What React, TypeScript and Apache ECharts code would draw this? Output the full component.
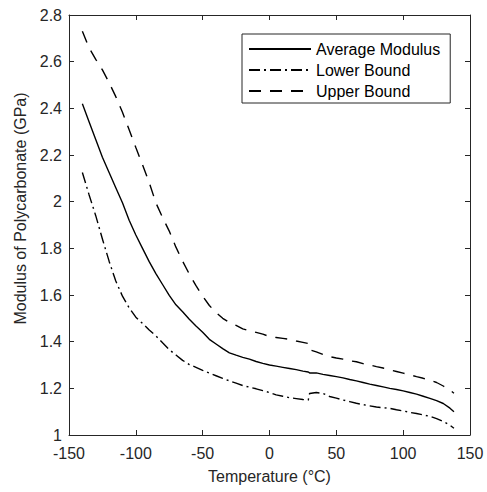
import React, { useEffect, useRef } from "react";
import * as echarts from "echarts";

const temperatures = [
  -140, -135, -130, -125, -120, -115, -110, -105, -100, -95, -90, -85, -80, -75, -70, -65, -60, -55, -50, -45,
  -40, -35, -30, -25, -20, -15, -10, -5, 0, 5, 10, 15, 20, 25, 29, 30, 35, 40, 45, 50, 55, 60, 65, 70, 75, 80,
  85, 90, 95, 100, 105, 110, 115, 120, 125, 130, 135, 138,
];

const averageModulus = [
  2.42, 2.343, 2.266, 2.19, 2.125, 2.06, 1.995, 1.92, 1.857, 1.8, 1.743, 1.692, 1.645, 1.598, 1.558, 1.528,
  1.496, 1.467, 1.44, 1.41, 1.39, 1.37, 1.352, 1.342, 1.333, 1.325, 1.315, 1.307, 1.3, 1.295, 1.29, 1.285,
  1.28, 1.274, 1.27, 1.266, 1.266, 1.26, 1.255, 1.25, 1.245, 1.238, 1.232, 1.225, 1.218, 1.212, 1.206, 1.2,
  1.195, 1.189, 1.182, 1.175, 1.166, 1.157, 1.147, 1.135, 1.115, 1.1,
];

const lowerBound = [
  2.125, 2.03, 1.94, 1.84, 1.745, 1.66, 1.595, 1.545, 1.505, 1.478, 1.45, 1.425, 1.395, 1.366, 1.343, 1.32,
  1.302, 1.29, 1.277, 1.265, 1.254, 1.243, 1.232, 1.222, 1.212, 1.205, 1.198, 1.19, 1.182, 1.172, 1.166, 1.16,
  1.156, 1.152, 1.15, 1.178, 1.182, 1.178, 1.165, 1.158, 1.15, 1.143, 1.136, 1.13, 1.125, 1.12, 1.117, 1.114,
  1.108, 1.103, 1.097, 1.092, 1.086, 1.08, 1.07, 1.058, 1.042, 1.029,
];

const upperBound = [
  2.73, 2.66, 2.61, 2.565, 2.51, 2.45, 2.383, 2.308, 2.232, 2.158, 2.082, 1.995, 1.932, 1.874, 1.805, 1.745,
  1.69, 1.64, 1.595, 1.555, 1.525, 1.5, 1.482, 1.47, 1.455, 1.447, 1.44, 1.432, 1.422, 1.418, 1.414, 1.41,
  1.403, 1.397, 1.392, 1.365, 1.356, 1.345, 1.336, 1.33, 1.325, 1.318, 1.314, 1.306, 1.3, 1.293, 1.287, 1.279,
  1.272, 1.265, 1.258, 1.25, 1.243, 1.235, 1.225, 1.21, 1.193, 1.179,
];

const xTicks = { min: -150, max: 150, interval: 50 };
const yTicks = { min: 1, max: 2.8, interval: 0.2 };

const seriesNames = ["Average Modulus", "Lower Bound", "Upper Bound"];

export default function App() {
  const ref = useRef<HTMLDivElement>(null);

  useEffect(() => {
    if (!ref.current) return;
    const chart = echarts.init(ref.current, undefined, { renderer: "svg" });
    const font = "'Liberation Sans', Arial, Helvetica, sans-serif";
    const axisColor = "#262626";
    const pair = (vals: number[]) => temperatures.map((t, i) => [t, vals[i]]);

    const axisLine = { show: true, onZero: false, lineStyle: { color: axisColor, width: 1 } };
    const axisTick = { show: true, inside: true, length: 5, lineStyle: { color: axisColor } };

    const baseX = {
      type: "value" as const,
      min: xTicks.min,
      max: xTicks.max,
      interval: xTicks.interval,
      splitLine: { show: false },
      axisLine,
      axisTick,
    };
    const baseY = {
      type: "value" as const,
      min: yTicks.min,
      max: yTicks.max,
      interval: yTicks.interval,
      splitLine: { show: false },
      axisLine,
      axisTick,
    };

    chart.setOption({
      animation: false,
      backgroundColor: "#ffffff",
      grid: { left: 69, right: 17, top: 15, bottom: 57 },
      legend: {
        orient: "vertical",
        left: 242,
        top: 34,
        data: seriesNames,
        padding: [7, 10, 4, 6],
        itemWidth: 62,
        itemHeight: 14,
        itemGap: 5,
        borderColor: axisColor,
        borderWidth: 1,
        backgroundColor: "#ffffff",
        itemStyle: { opacity: 0, color: "transparent", borderWidth: 0 },
        textStyle: { fontFamily: font, fontSize: 16, color: "#000", lineHeight: 16 },
      },
      xAxis: [
        {
          ...baseX,
          position: "bottom",
          name: "Temperature (°C)",
          nameLocation: "middle",
          nameGap: 33,
          nameTextStyle: { fontFamily: font, fontSize: 16, color: axisColor },
          axisLabel: { fontFamily: font, fontSize: 16, color: axisColor, margin: 10 },
        },
        { ...baseX, position: "top", axisLabel: { show: false } },
      ],
      yAxis: [
        {
          ...baseY,
          position: "left",
          name: "Modulus of Polycarbonate (GPa)",
          nameLocation: "middle",
          nameGap: 38,
          nameTextStyle: { fontFamily: font, fontSize: 16, color: axisColor, padding: [0, 0, 0, 33] },
          axisLabel: { fontFamily: font, fontSize: 16, color: axisColor, margin: 7 },
        },
        { ...baseY, position: "right", axisLabel: { show: false } },
      ],
      series: [
        {
          name: seriesNames[0],
          type: "line",
          data: pair(averageModulus),
          symbol: "none",
          smooth: false,
          lineStyle: { color: "#000", width: 1.4, type: "solid" },
          itemStyle: { color: "#000" },
        },
        {
          name: seriesNames[1],
          type: "line",
          data: pair(lowerBound),
          symbol: "none",
          lineStyle: { color: "#000", width: 1.4, type: [11, 4, 2, 4] },
          itemStyle: { color: "#000" },
        },
        {
          name: seriesNames[2],
          type: "line",
          data: pair(upperBound),
          symbol: "none",
          lineStyle: { color: "#000", width: 1.4, type: [12, 9] },
          itemStyle: { color: "#000" },
        },
      ],
    });
    return () => chart.dispose();
  }, []);

  return (
    <div
      ref={ref}
      style={{ position: "fixed", left: 0, top: 0, width: 487, height: 492, background: "#fff" }}
    />
  );
}
